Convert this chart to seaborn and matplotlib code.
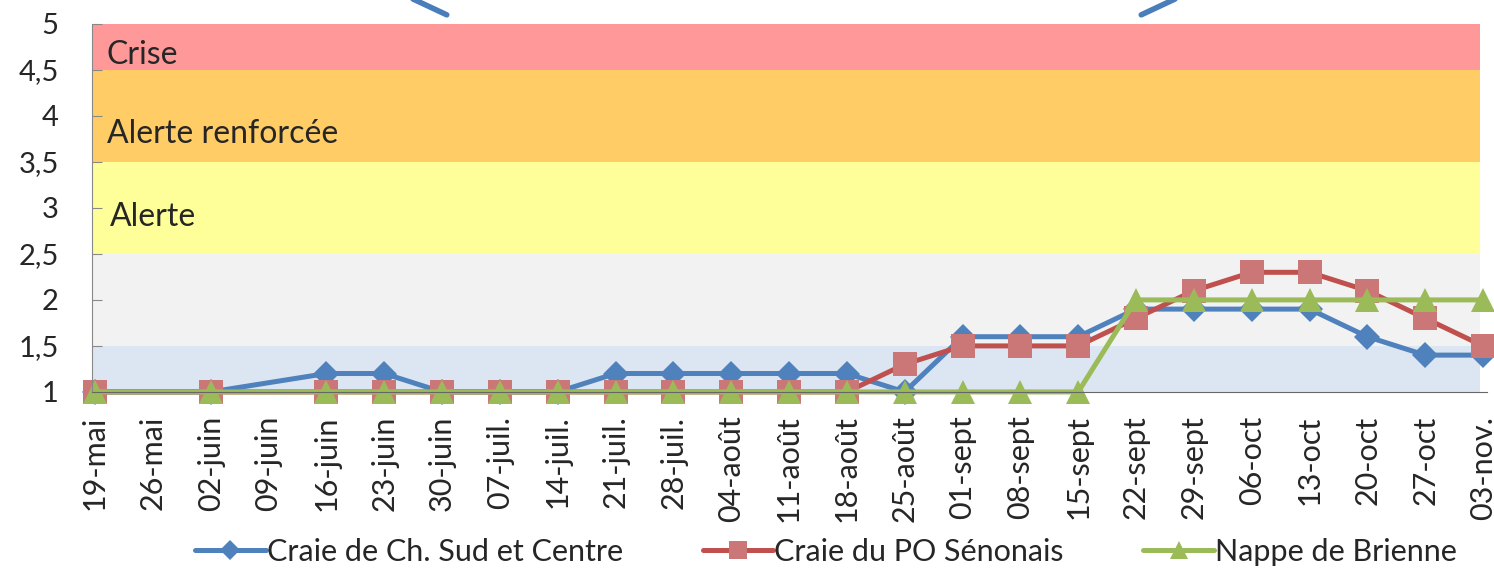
import numpy as np
import pandas as pd
import seaborn as sns
import matplotlib.pyplot as plt
from matplotlib.lines import Line2D

dates = ['19-mai', '26-mai', '02-juin', '09-juin', '16-juin', '23-juin', '30-juin',
         '07-juil.', '14-juil.', '21-juil.', '28-juil.', '04-août', '11-août',
         '18-août', '25-août', '01-sept', '08-sept', '15-sept', '22-sept',
         '29-sept', '06-oct', '13-oct', '20-oct', '27-oct', '03-nov.']
nan = np.nan
craie_sud = [1, nan, 1, nan, 1.2, 1.2, 1, 1, 1, 1.2, 1.2, 1.2, 1.2, 1.2, 1.0,
             1.6, 1.6, 1.6, 1.9, 1.9, 1.9, 1.9, 1.6, 1.4, 1.4]
craie_po = [1, nan, 1, nan, 1, 1, 1, 1, 1, 1, 1, 1, 1, 1, 1.3,
            1.5, 1.5, 1.5, 1.8, 2.1, 2.3, 2.3, 2.1, 1.8, 1.5]
brienne = [1, nan, 1, nan, 1, 1, 1, 1, 1, 1, 1, 1, 1, 1, 1,
           1, 1, 1, 2, 2, 2, 2, 2, 2, 2]
series_names = ['Craie de Ch. Sud et Centre', 'Craie du PO Sénonais', 'Nappe de Brienne']

# seuils de gestion
band_limits = [(1, 1.5), (1.5, 2.5), (2.5, 3.5), (3.5, 4.5), (4.5, 5)]
band_colors = ['#dce6f2', '#f2f2f2', '#ffff99', '#ffcc66', '#ff9999']
band_labels = [('Crise', 4.66), ('Alerte renforcée', 3.80), ('Alerte', 2.90)]

rows = []
for name, vals in zip(series_names, [craie_sud, craie_po, brienne]):
    for i, v in enumerate(vals):
        if not np.isnan(v):
            rows.append({'pos': i, 'niveau': v, 'nappe': name})
df = pd.DataFrame(rows)

sns.set_style('white')
plt.rcParams['font.family'] = ['Lato', 'DejaVu Sans']

fig = plt.figure(figsize=(14.94, 5.68), dpi=100)
ax = fig.add_axes([0.0616, 0.31, 0.9384, 0.648])

for (lo, hi), col in zip(band_limits, band_colors):
    ax.axhspan(lo, hi, xmin=0, xmax=0.990, color=col, lw=0, zorder=0)
for i, (lab, y) in enumerate(band_labels):
    ax.text(0.2 if i < 2 else 0.25, y, lab, fontsize=23, va='center', ha='left')

colors = ['#4f81bd', '#c0504d', '#9bbb59']
mk = ['D', 's', '^']
palette = dict(zip(series_names, colors))
markers = dict(zip(series_names, mk))
sns.lineplot(data=df, x='pos', y='niveau', hue='nappe', style='nappe',
             palette=palette, markers=markers, dashes=False, linewidth=3.6,
             markersize=17, markeredgewidth=0, ax=ax, legend=False)

for ln in ax.lines:
    ln.set_clip_on(False)
ax.lines[0].set_markersize(13)
# carrés rouges un peu plus clairs comme dans l'original
ax.lines[1].set_markerfacecolor('#cc7777')

ax.set_xlim(-0.052, 24.19)
ax.set_ylim(1, 5)
ax.set_xticks(range(len(dates)))
ax.set_xticklabels(dates, rotation=90, fontsize=22)
yt = np.arange(1, 5.01, 0.5)
ax.set_yticks(yt)
ax.set_yticklabels([f'{v:g}'.replace('.', ',') for v in yt], fontsize=21)
ax.tick_params(axis='y', direction='in', length=7, color='#888888', pad=24, left=True)
ax.tick_params(axis='x', length=0, pad=17)
ax.set_xlabel('')
ax.set_ylabel('')
for s in ['top', 'right']:
    ax.spines[s].set_visible(False)
ax.spines['left'].set_color('#888888')
ax.spines['bottom'].set_color('#666666')
ax.spines['bottom'].set_bounds(-0.052, 24.07)

handles = [Line2D([], [], color=c, marker=m, lw=3.6, markersize=10 if m == 'D' else 13,
                  markeredgewidth=0, markerfacecolor=('#cc7777' if m == 's' else c))
           for c, m in zip(colors, mk)]
fig.legend(handles, series_names, loc='center', bbox_to_anchor=(0.553, 0.028), ncol=3,
           frameon=False, fontsize=22, handlelength=2.3, handletextpad=0.05,
           columnspacing=2.6)

# flèche bleue en haut (coupée par le bord de l'image)
ax.annotate('', xy=(393, 574), xytext=(1195, 574), xycoords='figure pixels',
            annotation_clip=False,
            arrowprops=dict(arrowstyle='<->,head_length=1.6,head_width=0.75',
                            lw=4, color='#4a7ebb', mutation_scale=20))

fig.savefig('out.png', dpi=100)
